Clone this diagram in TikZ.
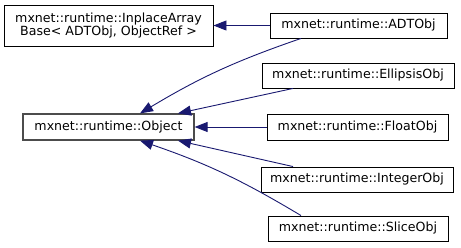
\documentclass[tikz,border=0pt]{standalone}
\usepackage{fontspec}
\setmainfont{DejaVu Sans}
\usetikzlibrary{positioning, arrows.meta, calc}
\definecolor{navy}{HTML}{191970}

\tikzset{
    cls/.style={draw=black, line width=0.9pt, fill=white, inner sep=0pt,
        minimum height=25pt, align=center,
        font=\fontsize{12.6}{13.5}\selectfont},
    inh/.style={draw=navy, line width=0.9pt,
        {Triangle[length=13pt, width=10pt]}-},
}

\begin{document}
\begin{tikzpicture}[x=1pt, y=1pt]
    \useasboundingbox (0, 0) rectangle (461, -247);

    \node[cls, minimum width=209pt, minimum height=41pt] (base) at (108.5, -25.5)
        {mxnet::runtime::InplaceArray\\Base< ADTObj, ObjectRef >};
    \node[cls, draw=black!70, line width=1.2pt, minimum width=171pt, minimum height=26pt] (obj) at (108.5, -127)
        {mxnet::runtime::Object};

    \node[cls, minimum width=177pt] (adt) at (358.5, -25.5) {mxnet::runtime::ADTObj};
    \node[cls, minimum width=192pt] (ell) at (358, -75.5) {mxnet::runtime::EllipsisObj};
    \node[cls, minimum width=181pt, minimum height=26pt] (flt) at (357.5, -127) {mxnet::runtime::FloatObj};
    \node[cls, minimum width=192pt] (int) at (357, -179.5) {mxnet::runtime::IntegerObj};
    \node[cls, minimum width=180pt] (slc) at (358, -228.5) {mxnet::runtime::SliceObj};

    \draw
        (base) edge[inh] (adt)
        ([xshift=31.5pt]obj.north) edge[inh, bend left=6] ([xshift=-57.5pt]adt.south)
        ([xshift=69.5pt]obj.north) edge[inh] ([xshift=-65pt]ell.south)
        (obj) edge[inh] (flt)
        ([xshift=69.5pt]obj.south) edge[inh] ([xshift=-64pt]int.north)
        ([xshift=31.5pt]obj.south) edge[inh, bend left=6] ([xshift=-57pt]slc.north)
        ;
\end{tikzpicture}
\end{document}
